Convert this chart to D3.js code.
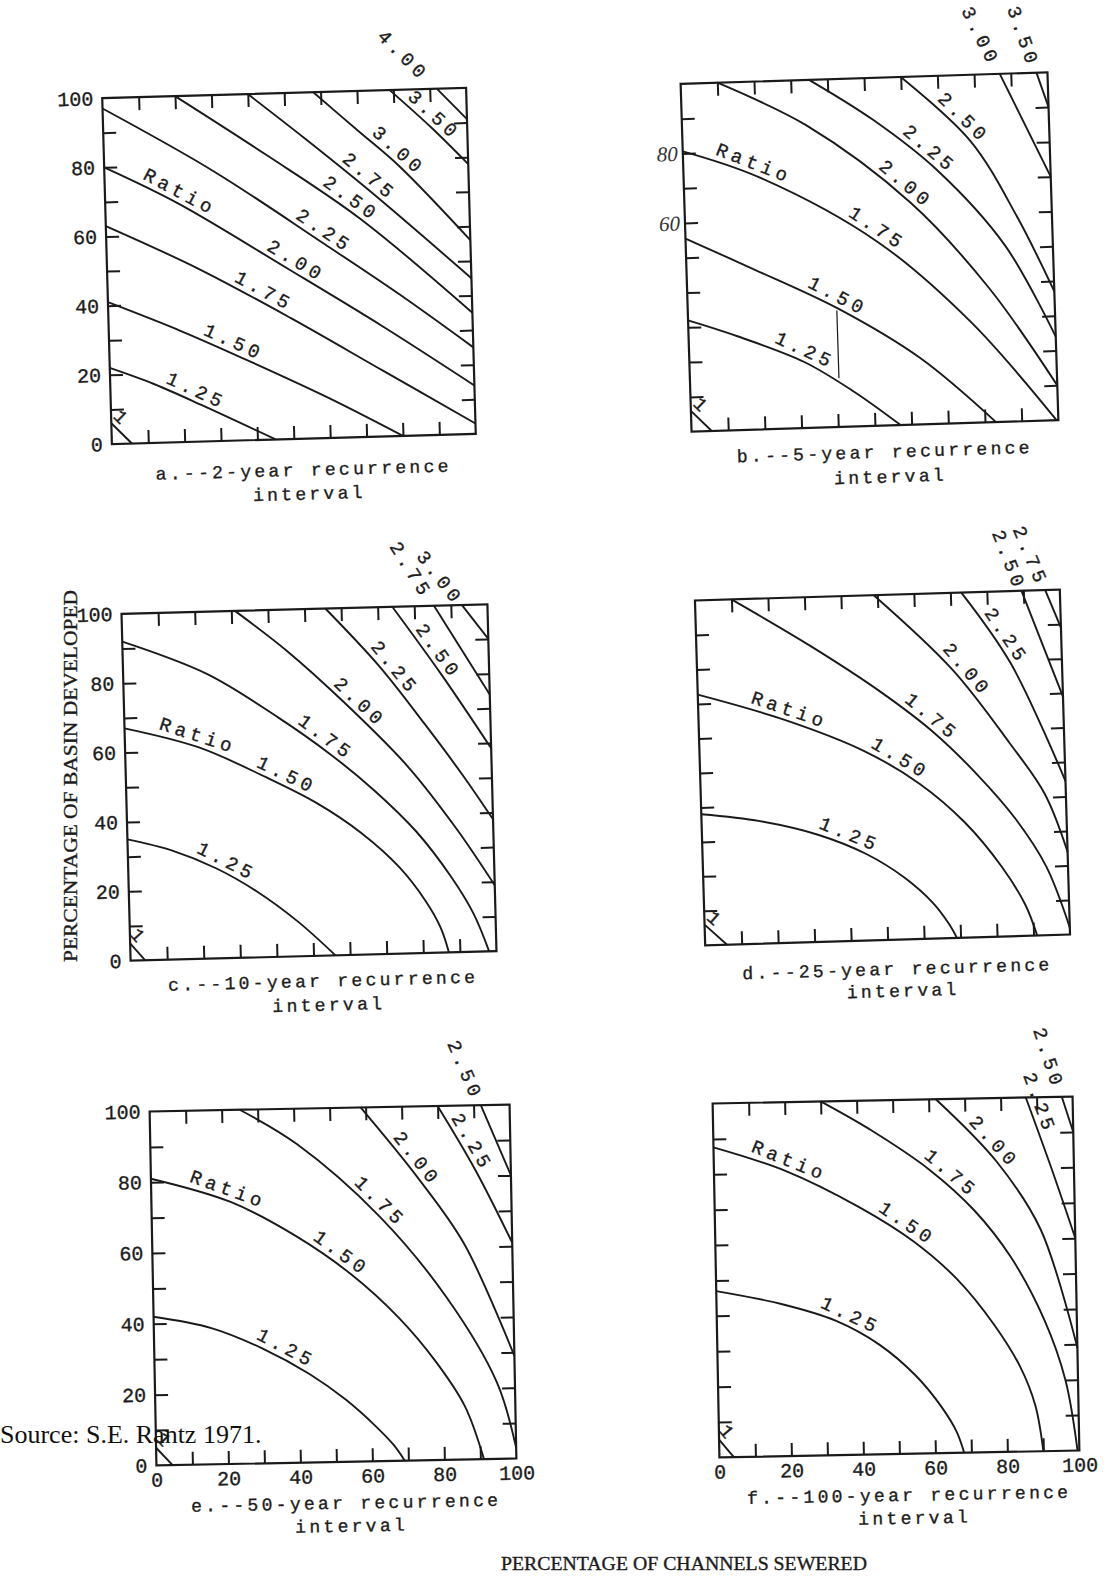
<!DOCTYPE html>
<html>
<head>
<meta charset="utf-8">
<script src="https://cdn.jsdelivr.net/npm/d3@7"></script>
<style>
  body { margin: 0; background: #fff; }
</style>
</head>
<body>
<div id="chart"></div>
<script>
// ---- data: ratio contours (x = % channels sewered, y = % basin developed)
const ratiosA = ["1", "1.25", "1.50", "1.75", "2.00", "2.25", "2.50", "2.75", "3.00", "3.50", "4.00"];
const curvesA = [
  [[0, 6], [5.5, 0]],
  [[0, 22], [12, 17], [25, 10.5], [45, 0]],
  [[0, 41], [20, 32], [40, 22], [60, 11.5], [80, 0]],
  [[0, 63], [25, 50], [50, 35], [75, 19], [100, 3]],
  [[0, 80], [20, 69], [50, 49], [75, 32], [100, 14]],
  [[0, 97], [30, 78], [60, 56], [80, 41], [100, 25]],
  [[20, 100], [45, 82], [70, 63], [100, 35]],
  [[40, 100], [55, 87], [72.8, 71], [100, 45]],
  [[58, 100], [70, 88.5], [81, 78], [100, 56]],
  [[79, 100], [90, 89], [100, 78]],
  [[92, 100], [100, 91]]
];
const labelsA = [
  ["1", "1", 3], ["1.25", "1.25", 23.6], ["1.50", "1.50", 34.3], ["1.75", "1.75", 43],
  ["Ratio", "2.00", 20.6], ["2.00", "2.00", 52], ["2.25", "2.25", 60], ["2.50", "2.50", 67.6],
  ["2.75", "2.75", 72.8], ["3.00", "3.00", 81], ["3.50", "3.50", 91], ["4.00", "4.00", null, 110]
];

const ratiosB = ["1", "1.25", "1.50", "1.75", "2.00", "2.25", "2.50", "3.00", "3.50"];
const curvesB = [
  [[0, 6], [5.5, 0]],
  [[0, 32], [13.3, 27], [31.3, 19], [44.6, 10], [57, 0]],
  [[0, 55.5], [18.5, 46], [41, 34], [63, 19], [83, 0]],
  [[0, 80.6], [20.5, 72.5], [52.6, 52.6], [77, 29], [99.5, 0]],
  [[10, 100], [33.8, 87], [61.7, 63.7], [82.3, 38.5], [100, 10]],
  [[35, 100], [52, 88], [69, 73], [87, 50.6], [100, 24]],
  [[60, 100], [78.4, 81], [90.4, 59], [100, 37]],
  [[87, 100], [100, 70]],
  [[97, 100], [100, 90]]
];
const labelsB = [
  ["1", "1", 3], ["1.25", "1.25", 31.6], ["1.50", "1.50", 41], ["Ratio", "1.75", 19.3],
  ["1.75", "1.75", 52.3], ["2.00", "2.00", 60.5], ["2.25", "2.25", 67.3], ["2.50", "2.50", 76.8],
  ["3.00", "3.00", null, 111], ["3.50", "3.50", null, 110.5]
];
const noteB = [[40.6, 33.5], [40.6, 14]];
const handB = [["80", 80], ["60", 60]];

const ratiosC = ["1", "1.25", "1.50", "1.75", "2.00", "2.25", "2.50", "2.75", "3.00"];
const curvesC = [
  [[0, 5], [4, 0]],
  [[0, 35], [12, 31.5], [24, 26], [35, 19], [46, 10], [56, 0]],
  [[0, 67], [20, 61], [38, 52], [52, 44], [64, 35], [74, 25], [81, 15], [85, 7], [87, 0]],
  [[0, 92], [23, 82], [42, 69], [56, 58], [68, 47], [79, 35], [88, 22], [94, 11], [98, 0]],
  [[31, 100], [45, 88], [60, 73], [77, 54], [90, 35.5], [100, 19]],
  [[55.7, 100], [70, 83], [82, 66], [92, 51], [100, 38]],
  [[74, 100], [87, 80], [100, 58.5]],
  [[85.4, 100], [100, 74]],
  [[93, 100], [100, 90]]
];
const labelsC = [
  ["1", "1", 2.5], ["1.25", "1.25", 27], ["Ratio", "1.50", 20], ["1.50", "1.50", 44],
  ["1.75", "1.75", 55], ["2.00", "2.00", 64.5], ["2.25", "2.25", 74.3], ["2.50", "2.50", 86.3],
  ["2.75", "2.75", null, 110.5], ["3.00", "3.00", null, 108]
];

const ratiosD = ["1", "1.25", "1.50", "1.75", "2.00", "2.25", "2.50", "2.75"];
const curvesD = [
  [[0, 6], [6, 0]],
  [[0, 38], [16, 35.5], [32, 31], [45, 25], [55, 18], [63, 10], [67, 4], [69, 0]],
  [[0, 72.7], [24, 64.5], [45, 55], [60, 45], [72, 33.5], [82, 20], [88, 9], [91, 0]],
  [[10, 100], [31, 86], [50, 72], [64, 60], [76, 47], [86, 34], [94, 20], [100, 2]],
  [[49, 100], [70, 77.7], [85, 56], [94.2, 41], [100, 24]],
  [[73, 100], [86, 79], [100, 44.5]],
  [[89.5, 100], [100, 69]],
  [[96, 100], [100, 89]]
];
const labelsD = [
  ["1", "1", 3], ["1.25", "1.25", 40.5], ["Ratio", "1.50", 25], ["1.50", "1.50", 55],
  ["1.75", "1.75", 64], ["2.00", "2.00", 74], ["2.25", "2.25", 85],
  ["2.50", "2.50", null, 109], ["2.75", "2.75", null, 110]
];

const ratiosE = ["1", "1.25", "1.50", "1.75", "2.00", "2.25", "2.50"];
const curvesE = [
  [[0, 5], [4.5, 0]],
  [[0, 42], [16, 38.5], [30, 32.5], [43, 25], [53, 17.5], [61, 10], [66, 4.5], [69, 0]],
  [[0, 81], [22, 74], [40, 64], [55, 53], [68, 40.5], [78, 28], [86, 15], [91, 0]],
  [[25, 100], [40.7, 90], [63.4, 69], [81.6, 45.7], [95, 21.6], [100, 3]],
  [[58.6, 100], [74, 80], [86.6, 61], [100, 29]],
  [[80, 100], [90, 82], [100, 61]],
  [[92, 100], [100, 80]]
];
const labelsE = [
  ["1", "1", 2.5], ["1.25", "1.25", 36.7], ["Ratio", "1.50", 21.4], ["1.50", "1.50", 52.5],
  ["1.75", "1.75", 63.6], ["2.00", "2.00", 74], ["2.25", "2.25", 89.4], ["2.50", "2.50", null, 110]
];

const ratiosF = ["1", "1.25", "1.50", "1.75", "2.00", "2.25", "2.50"];
const curvesF = [
  [[0, 5], [4, 0]],
  [[0, 47], [18, 43], [33, 38], [45, 31], [55, 22], [62, 13], [66, 6], [68, 0]],
  [[0, 87.6], [20, 80.5], [40, 70], [55, 60], [67, 49], [77, 36], [84, 24], [88, 13], [90, 0]],
  [[30, 100], [44, 91.5], [60, 80], [72, 68.5], [82, 55], [91, 37], [96.5, 20], [99.5, 0]],
  [[62, 100], [78.6, 82], [90.4, 62.7], [100, 29]],
  [[87, 100], [93.7, 80], [100, 60]],
  [[97, 100], [100, 90]]
];
const labelsF = [
  ["1", "1", 2.5], ["1.25", "1.25", 37.2], ["Ratio", "1.50", 21], ["1.50", "1.50", 53.4],
  ["1.75", "1.75", 65.9], ["2.00", "2.00", 78], ["2.25", "2.25", 90.8], ["2.50", "2.50", null, 111]
];

const panelTitles = [
  ["a.--2-year recurrence", "interval"],
  ["b.--5-year recurrence", "interval"],
  ["c.--10-year recurrence", "interval"],
  ["d.--25-year recurrence", "interval"],
  ["e.--50-year recurrence", "interval"],
  ["f.--100-year recurrence", "interval"]
];
const tickLabelValues = [0, 20, 40, 60, 80, 100];
const yTitle = "PERCENTAGE OF BASIN DEVELOPED";
const xTitle = "PERCENTAGE OF CHANNELS SEWERED";
const sourceNote = "Source: S.E. Rantz 1971.";

// ---- layout
const layout = {
  a: { x0: 107, y0: 93, w: 364, h: 346, rot: -1.6, t1: 37, t2: 61, yLab: true, xLab: false },
  b: { x0: 686, y0: 78, w: 367, h: 348, rot: -1.8, t1: 32, t2: 57, yLab: false, xLab: false },
  c: { x0: 126, y0: 609, w: 366, h: 347, rot: -1.5, t1: 31, t2: 55, yLab: true, xLab: false },
  d: { x0: 700, y0: 595, w: 365, h: 345, rot: -1.7, t1: 35, t2: 57, yLab: false, xLab: false },
  e: { x0: 153, y0: 1108, w: 360, h: 354, rot: -1.1, t1: 47, t2: 70, yLab: true, xLab: true },
  f: { x0: 716, y0: 1100, w: 360, h: 354, rot: -1.1, t1: 47, t2: 70, yLab: false, xLab: true }
};

const ink = "#1a1a1a";
const mono = "'Liberation Mono', 'DejaVu Sans Mono', monospace";
const serif = "'Liberation Serif', 'DejaVu Serif', serif";

const svg = d3.select("#chart").append("svg")
  .attr("width", 1104)
  .attr("height", 1591)
  .style("background", "#fff");

function cleanTicks(sel) {
  sel.select(".domain").remove();
  sel.selectAll(".tick line").attr("stroke", ink).attr("stroke-width", 2);
}

// typewriter look: thin outline thickens the glyphs a little
function inked(sel) {
  sel.attr("fill", "#1c1c1c").attr("stroke", "#1c1c1c").attr("stroke-width", 0.35);
}

function atX(node, tx) {
  var lo = 0, hi = node.getTotalLength();
  for (var i = 0; i < 30; i++) {
    var m = (lo + hi) / 2;
    if (node.getPointAtLength(m).x < tx) lo = m; else hi = m;
  }
  return (lo + hi) / 2;
}

function drawPanel(id, idx, ratios, curves, labels) {
  const L = layout[id];
  const x = d3.scaleLinear().domain([0, 100]).range([0, L.w]);
  const y = d3.scaleLinear().domain([0, 100]).range([L.h, 0]);

  const g = svg.append("g")
    .attr("transform", "translate(" + L.x0 + "," + L.y0 + ") rotate(" + L.rot + "," + (L.w / 2) + "," + (L.h / 2) + ")");

  // inward ticks on all four sides
  const tv = d3.range(10, 100, 10), tk = 13;
  g.append("g").call(d3.axisRight(y).tickValues(tv).tickSize(tk).tickFormat("")).call(cleanTicks);
  g.append("g").attr("transform", "translate(" + L.w + ",0)")
    .call(d3.axisLeft(y).tickValues(tv).tickSize(tk).tickFormat("")).call(cleanTicks);
  g.append("g").call(d3.axisBottom(x).tickValues(tv).tickSize(tk).tickFormat("")).call(cleanTicks);
  g.append("g").attr("transform", "translate(0," + L.h + ")")
    .call(d3.axisTop(x).tickValues(tv).tickSize(tk).tickFormat("")).call(cleanTicks);

  g.append("rect")
    .attr("width", L.w).attr("height", L.h)
    .attr("fill", "none").attr("stroke", ink).attr("stroke-width", 2.2);

  if (L.yLab) {
    const ya = g.append("g")
      .call(d3.axisLeft(y).tickValues(tickLabelValues).tickSize(0).tickPadding(9));
    ya.select(".domain").remove();
    ya.attr("font-family", mono).attr("font-size", 20);
    ya.selectAll("text").call(inked);
  }
  if (L.xLab) {
    const xa = g.append("g").attr("transform", "translate(0," + L.h + ")")
      .call(d3.axisBottom(x).tickValues(tickLabelValues).tickSize(0).tickPadding(7));
    xa.select(".domain").remove();
    xa.attr("font-family", mono).attr("font-size", 20);
    xa.selectAll("text").call(inked);
  }

  const line = d3.line()
    .x(function (d) { return x(d[0]); })
    .y(function (d) { return y(d[1]); })
    .curve(d3.curveCatmullRom.alpha(0.5));

  const paths = {};
  ratios.forEach(function (r, i) {
    paths[r] = g.append("path")
      .attr("d", line(curves[i]))
      .attr("fill", "none")
      .attr("stroke", ink)
      .attr("stroke-width", 1.9);
  });

  // contour labels, written along their line
  labels.forEach(function (lb) {
    const txt = lb[0], node = paths[lb[1]].node(), u = lb[2], v = lb[3];
    let px, py, ang, lift;
    if (v != null) {
      const p0 = node.getPointAtLength(0), p1 = node.getPointAtLength(3);
      ang = Math.atan2(p1.y - p0.y, p1.x - p0.x);
      const s = (y(v) - p0.y) / Math.sin(ang);
      px = p0.x + s * Math.cos(ang);
      py = p0.y + s * Math.sin(ang);
      lift = 0;
    } else {
      const len = node.getTotalLength();
      let tx = x(u);
      lift = 5;
      for (let k = 0; k < 3; k++) {
        const l = atX(node, tx);
        const a = node.getPointAtLength(Math.max(0, l - 1.5)), b = node.getPointAtLength(Math.min(len, l + 1.5));
        ang = Math.atan2(b.y - a.y, b.x - a.x);
        const p = node.getPointAtLength(l);
        px = p.x; py = p.y;
        tx = x(u) - 11 * Math.sin(ang);
      }
    }
    g.append("text")
      .attr("transform", "translate(" + px + "," + py + ") rotate(" + (ang * 180 / Math.PI) + ")")
      .attr("y", -lift)
      .attr("dy", lift ? 0 : "0.35em")
      .attr("text-anchor", "middle")
      .attr("font-family", mono)
      .attr("font-size", 19)
      .attr("letter-spacing", 4.5)
      .call(inked)
      .text(txt);
  });

  // panel caption
  const cx = L.w / 2 + 9;
  g.append("text").attr("x", cx).attr("y", L.h + L.t1)
    .attr("text-anchor", "middle").attr("font-family", mono).attr("font-size", 18)
    .attr("letter-spacing", 3.3).call(inked).text(panelTitles[idx][0]);
  g.append("text").attr("x", cx + 5).attr("y", L.h + L.t2)
    .attr("text-anchor", "middle").attr("font-family", mono).attr("font-size", 18)
    .attr("letter-spacing", 3.3).call(inked).text(panelTitles[idx][1]);

  return { g: g, x: x, y: y };
}

drawPanel("a", 0, ratiosA, curvesA, labelsA);
const pb = drawPanel("b", 1, ratiosB, curvesB, labelsB);
drawPanel("c", 2, ratiosC, curvesC, labelsC);
drawPanel("d", 3, ratiosD, curvesD, labelsD);
drawPanel("e", 4, ratiosE, curvesE, labelsE);
drawPanel("f", 5, ratiosF, curvesF, labelsF);

// pencil marks on panel b
pb.g.append("path")
  .attr("d", d3.line().x(function (d) { return pb.x(d[0]); }).y(function (d) { return pb.y(d[1]); })(noteB))
  .attr("stroke", ink).attr("stroke-width", 1.2).attr("fill", "none");
pb.g.selectAll(".hand")
  .data(handB)
  .enter().append("text")
  .attr("class", "hand")
  .attr("x", -5)
  .attr("y", function (d) { return pb.y(d[1]); })
  .attr("dy", "0.35em")
  .attr("text-anchor", "end")
  .attr("font-family", serif)
  .attr("font-style", "italic")
  .attr("font-size", 21)
  .attr("fill", "#333")
  .text(function (d) { return d[0]; });

// shared axis titles
svg.append("text")
  .attr("transform", "translate(71,776) rotate(-90)")
  .attr("text-anchor", "middle")
  .attr("dy", "0.35em")
  .attr("font-family", serif)
  .attr("font-size", 18)
  .attr("textLength", 372)
  .attr("lengthAdjust", "spacingAndGlyphs")
  .call(inked)
  .text(yTitle);

svg.append("text")
  .attr("x", 684).attr("y", 1570)
  .attr("text-anchor", "middle")
  .attr("font-family", serif)
  .attr("font-size", 19)
  .attr("textLength", 366)
  .attr("lengthAdjust", "spacingAndGlyphs")
  .call(inked)
  .text(xTitle);

svg.append("text")
  .attr("x", 0).attr("y", 1443)
  .attr("font-family", serif)
  .attr("font-size", 26)
  .attr("fill", "#111")
  .text(sourceNote);
</script>
</body>
</html>
